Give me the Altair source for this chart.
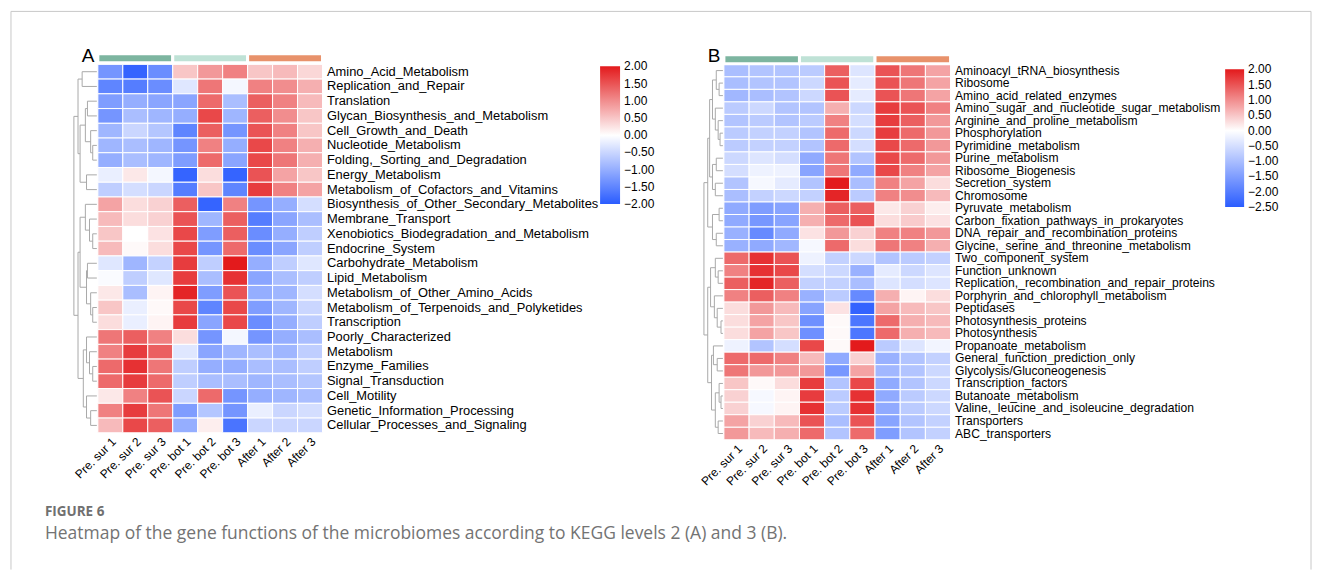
import altair as alt
import pandas as pd

FONT = "Liberation Sans"

samples = ["Pre. sur 1", "Pre. sur 2", "Pre. sur 3", "Pre. bot 1", "Pre. bot 2",
           "Pre. bot 3", "After 1", "After 2", "After 3"]

group_first = ["Pre. sur 1", "Pre. bot 1", "After 1"]
group_last = ["Pre. sur 3", "Pre. bot 3", "After 3"]
group_colors = ["#7db5a0", "#bfe2d6", "#e8926b"]

rows_A = ["Amino_Acid_Metabolism", "Replication_and_Repair", "Translation",
          "Glycan_Biosynthesis_and_Metabolism", "Cell_Growth_and_Death",
          "Nucleotide_Metabolism", "Folding,_Sorting_and_Degradation", "Energy_Metabolism",
          "Metabolism_of_Cofactors_and_Vitamins", "Biosynthesis_of_Other_Secondary_Metabolites",
          "Membrane_Transport", "Xenobiotics_Biodegradation_and_Metabolism", "Endocrine_System",
          "Carbohydrate_Metabolism", "Lipid_Metabolism", "Metabolism_of_Other_Amino_Acids",
          "Metabolism_of_Terpenoids_and_Polyketides", "Transcription", "Poorly_Characterized",
          "Metabolism", "Enzyme_Families", "Signal_Transduction", "Cell_Motility",
          "Genetic_Information_Processing", "Cellular_Processes_and_Signaling"]

vals_A = [
    [-1.3, -1.9, -1.4, 0.5, 0.9, 1.1, 0.5, 0.6, 0.35],
    [-1.5, -1.6, -1.4, -0.3, 1.2, -0.1, 1.1, 1.0, 0.7],
    [-1.2, -1.0, -1.1, -1.1, 1.3, -0.8, 1.4, 1.1, 0.6],
    [-1.3, -0.8, -0.9, -1.0, 1.6, -0.9, 1.4, 1.0, 0.5],
    [-0.9, -0.5, -0.7, -1.5, 1.4, -1.3, 1.5, 1.1, 0.5],
    [-0.9, -0.8, -0.9, -1.3, 1.1, -1.0, 1.6, 1.1, 0.7],
    [-1.0, -0.8, -0.9, -1.2, 1.3, -1.1, 1.6, 1.2, 0.7],
    [-0.2, 0.2, -0.1, -1.9, 0.3, -1.9, 1.5, 0.8, 0.5],
    [-0.6, -0.4, -0.5, -1.6, 0.5, -1.5, 1.7, 1.1, 0.8],
    [0.8, 0.3, 0.4, 1.4, -1.9, 1.1, -1.3, -1.0, -0.4],
    [0.6, 0.3, 0.4, 1.5, -0.9, 1.4, -1.6, -1.1, -0.8],
    [0.5, 0.0, 0.25, 1.6, -1.2, 1.4, -1.4, -1.0, -0.6],
    [0.6, 0.05, 0.3, 1.6, -1.3, 1.3, -1.4, -1.1, -0.6],
    [-0.3, -0.9, -0.55, 1.7, -0.6, 2.0, -1.0, -0.6, -0.3],
    [-0.05, -0.6, -0.3, 1.7, -0.8, 1.8, -1.1, -0.8, -0.6],
    [0.2, -0.8, 0.1, 1.9, -1.2, 1.5, -1.0, -0.9, -0.4],
    [0.5, -0.2, 0.05, 1.6, -1.5, 1.6, -1.2, -0.9, -0.5],
    [0.3, -0.2, 0.1, 1.7, -1.1, 1.6, -1.4, -1.0, -0.6],
    [1.2, 1.4, 1.1, 0.3, -1.3, -0.1, -1.3, -1.0, -0.8],
    [1.1, 1.7, 1.4, -0.3, -1.1, -0.9, -0.8, -0.9, -0.6],
    [1.3, 1.8, 1.2, -0.6, -1.0, -1.0, -0.8, -0.8, -0.6],
    [1.3, 1.7, 1.3, -0.6, -0.8, -0.8, -0.9, -0.8, -0.7],
    [0.2, 1.1, 1.5, -0.5, 1.3, -1.3, -1.0, -0.9, -0.8],
    [1.1, 1.7, 1.2, -1.2, -0.7, -1.3, -0.2, -0.5, -0.4],
    [0.6, 1.6, 1.4, -1.0, 0.15, -1.7, -0.5, -0.5, -0.5],
]

rows_B = ["Aminoacyl_tRNA_biosynthesis", "Ribosome", "Amino_acid_related_enzymes",
          "Amino_sugar_and_nucleotide_sugar_metabolism", "Arginine_and_proline_metabolism",
          "Phosphorylation", "Pyrimidine_metabolism", "Purine_metabolism", "Ribosome_Biogenesis",
          "Secretion_system", "Chromosome", "Pyruvate_metabolism",
          "Carbon_fixation_pathways_in_prokaryotes", "DNA_repair_and_recombination_proteins",
          "Glycine,_serine_and_threonine_metabolism", "Two_component_system", "Function_unknown",
          "Replication,_recombination_and_repair_proteins", "Porphyrin_and_chlorophyll_metabolism",
          "Peptidases", "Photosynthesis_proteins", "Photosynthesis", "Propanoate_metabolism",
          "General_function_prediction_only", "Glycolysis/Gluconeogenesis", "Transcription_factors",
          "Butanoate_metabolism", "Valine,_leucine_and_isoleucine_degradation", "Transporters",
          "ABC_transporters"]

vals_B = [
    [-1.0, -0.9, -0.9, -0.8, 1.4, -0.4, 1.5, 1.2, 0.8],
    [-1.0, -0.9, -0.9, -0.6, 1.5, -0.3, 1.5, 1.2, 0.8],
    [-1.1, -1.0, -0.9, -0.6, 1.5, -0.3, 1.5, 1.2, 0.8],
    [-0.8, -0.6, -0.9, -0.9, 0.7, -0.6, 1.7, 1.5, 1.1],
    [-0.9, -0.8, -0.9, -0.8, 1.1, -0.5, 1.7, 1.4, 0.9],
    [-0.8, -0.7, -0.7, -0.9, 1.3, -0.6, 1.7, 1.3, 0.9],
    [-0.8, -0.7, -0.7, -0.9, 1.3, -0.5, 1.6, 1.3, 0.9],
    [-0.6, -0.4, -0.5, -1.3, 1.2, -0.9, 1.6, 1.3, 0.9],
    [-0.5, -0.2, -0.2, -1.4, 1.2, -1.3, 1.6, 1.1, 0.8],
    [-0.9, -0.1, -0.3, -0.9, 2.0, -1.0, 1.1, 0.8, 0.3],
    [-1.0, -0.7, -0.6, -0.7, 1.9, -0.8, 1.1, 1.0, 0.6],
    [-1.3, -1.5, -1.4, 0.7, 1.4, 1.4, 0.2, 0.4, 0.15],
    [-1.3, -1.6, -1.4, 0.7, 1.3, 1.5, 0.3, 0.45, 0.25],
    [-1.2, -1.8, -1.3, 0.25, 0.9, 0.4, 1.1, 1.1, 0.9],
    [-1.2, -1.3, -1.1, -0.1, 1.3, 0.3, 1.2, 1.1, 0.7],
    [1.3, 1.8, 1.5, -0.2, -0.7, -0.6, -0.9, -0.8, -0.7],
    [1.1, 1.8, 1.6, -0.5, -0.6, -1.2, -0.3, -0.6, -0.4],
    [1.4, 1.9, 1.4, -0.7, -0.7, -1.0, -0.4, -0.5, -0.4],
    [1.1, 1.4, 1.1, -1.2, -0.8, -1.8, 0.7, 0.1, 0.3],
    [0.3, 0.9, 0.6, -1.4, 0.25, -2.4, 0.8, 0.6, 0.5],
    [0.3, 0.8, 0.5, -1.7, 0.05, -2.1, 1.3, 0.7, 0.6],
    [0.3, 0.8, 0.5, -1.7, 0.05, -2.1, 1.3, 0.7, 0.6],
    [-0.2, -0.9, -0.5, 1.6, 0.05, 2.0, -0.8, -0.4, -0.15],
    [1.3, 1.3, 1.1, 0.6, -1.3, 0.4, -1.2, -0.9, -0.7],
    [1.2, 0.9, 0.9, 0.9, -1.6, 0.8, -1.1, -0.9, -0.6],
    [0.5, 0.05, 0.3, 1.7, -0.9, 1.6, -1.3, -0.9, -0.6],
    [0.4, -0.1, 0.1, 1.7, -0.8, 1.8, -1.3, -0.8, -0.6],
    [0.4, -0.1, 0.1, 1.8, -0.8, 1.8, -1.3, -0.8, -0.6],
    [0.8, 0.4, 0.6, 1.5, -1.0, 1.5, -1.4, -0.9, -0.7],
    [0.9, 0.6, 0.7, 1.3, -0.9, 1.3, -1.5, -0.9, -0.7],
]

legend_ticks_A = [2.0, 1.5, 1.0, 0.5, 0.0, -0.5, -1.0, -1.5, -2.0]
legend_ticks_B = [2.0, 1.5, 1.0, 0.5, 0.0, -0.5, -1.0, -1.5, -2.0, -2.5]

# row clustering trees: (left, right, merge height); leaves are row indices
tree_A = (
    ((0, 1, 0.64),
     (((2, 3, 0.41), (4, (5, 6, 0.18), 0.27), 0.5), (7, 8, 0.45), 0.73), 0.82),
    (((9, (10, (11, 12, 0.18), 0.32), 0.5),
      ((13, 14, 0.41), (15, (16, 17, 0.18), 0.27), 0.45), 0.73),
     ((18, (19, (20, 21, 0.18), 0.32), 0.45), (22, (23, 24, 0.27), 0.45), 0.59), 0.82),
    1.0)

tree_B = (
    ((((0, (1, 2, 0.2), 0.35), (3, (4, (5, 6, 0.15), 0.25), 0.4), 0.55),
      ((7, 8, 0.35), (9, 10, 0.4), 0.55), 0.7),
     ((11, 12, 0.2), (13, 14, 0.35), 0.55), 0.8),
    (((15, (16, 17, 0.25), 0.4), (18, (19, (20, 21, 0.1), 0.3), 0.45), 0.65),
     ((22, (23, 24, 0.3), 0.5), ((25, (26, 27, 0.1), 0.2), (28, 29, 0.25), 0.4), 0.6), 0.8),
    1.0)

BLUE = "#2a5cff"
RED = "#e31a1c"


def long_table(rows, vals):
    return pd.DataFrame([{"row": r, "sample": s, "value": v}
                         for r, vs in zip(rows, vals) for s, v in zip(samples, vs)])


def dendro_segments(tree):
    segs = []

    def walk(node):
        if isinstance(node, int):
            return node + 0.5, 0.0
        left, right, h = node
        yl, hl = walk(left)
        yr, hr = walk(right)
        segs.append(dict(x=h, x2=h, y=yl, y2=yr))
        segs.append(dict(x=hl, x2=h, y=yl, y2=yl))
        segs.append(dict(x=hr, x2=h, y=yr, y2=yr))
        return (yl + yr) / 2, h

    walk(tree)
    return pd.DataFrame(segs)


def dendro_chart(tree, n, width, height, letter):
    return alt.Chart(
        dendro_segments(tree),
        title=alt.TitleParams(letter, anchor="end", fontSize=19, font=FONT, fontWeight="normal",
                              baseline="alphabetic", offset=0, dx=-3, dy=17, color="black"),
    ).mark_rule(color="#a9a9a9", strokeWidth=1).encode(
        x=alt.X("x:Q", scale=alt.Scale(domain=[0, 1], reverse=True), axis=None),
        x2="x2",
        y=alt.Y("y:Q", scale=alt.Scale(domain=[0, n], reverse=True, nice=False, zero=False), axis=None),
        y2="y2",
    ).properties(width=width, height=height)


groups_df = pd.DataFrame({"first": group_first, "last": group_last, "color": group_colors})


def heat_chart(rows, vals, dom, width, height, label_size, lx, ly, ticks, thick, bar_top):
    df = long_table(rows, vals)
    lo, hi = dom[0], dom[-1]
    eps = 1e-4
    # keep the end labels centred on the ends of the bar
    shown = [min(max(t, lo + eps), hi - eps) for t in ticks]
    color = alt.Color(
        "value:Q",
        scale=alt.Scale(domain=dom, range=[BLUE, "#ffffff", RED], interpolate="rgb"),
        legend=alt.Legend(title=None, orient="none", legendX=lx, legendY=ly, direction="vertical",
                          gradientLength=138, gradientThickness=thick, values=shown, format=".2f",
                          labelFont=FONT, labelFontSize=12, labelColor="black", labelOverlap=False,
                          gradientStrokeWidth=0, labelOffset=4, padding=0),
    )
    cells = alt.Chart(df).mark_rect(stroke="white", strokeWidth=1).encode(
        x=alt.X("sample:N", sort=samples,
                scale=alt.Scale(domain=samples, paddingInner=0, paddingOuter=0),
                axis=alt.Axis(title=None, labelAngle=-45, labelFont=FONT, labelFontSize=12,
                              labelColor="black", ticks=False, domain=False, labelPadding=3)),
        y=alt.Y("row:N", sort=rows, scale=alt.Scale(domain=rows),
                axis=alt.Axis(title=None, orient="right", labelFont=FONT, labelFontSize=label_size,
                              labelColor="black", ticks=False, domain=False, labelPadding=4,
                              labelLimit=500)),
        color=color,
    )
    ann = alt.Chart(groups_df).mark_rect(stroke="white", strokeWidth=3).encode(
        x=alt.X("first:N", bandPosition=0),
        x2=alt.X2("last:N", bandPosition=1),
        y=alt.value(bar_top),
        y2=alt.value(bar_top + 9),
        fill=alt.Fill("color:N", scale=None),
    )
    return alt.layer(cells, ann).properties(width=width, height=height)


base = alt.Chart(pd.DataFrame({"k": [0]}))
border_c = "#c8c8c8"
spacer = alt.layer(
    base.mark_rule(color=border_c).encode(x=alt.value(-313), y=alt.value(-53), y2=alt.value(506)),
    base.mark_rule(color=border_c).encode(x=alt.value(-313), x2=alt.value(989), y=alt.value(-53)),
    base.mark_rule(color=border_c).encode(x=alt.value(989), y=alt.value(-53), y2=alt.value(506)),
    base.mark_text(text="FIGURE 6", align="left", baseline="alphabetic", font="Open Sans",
                   fontSize=13.5, fontWeight="bold", color="#707070").encode(
        x=alt.value(-279), y=alt.value(452)),
    base.mark_text(text="Heatmap of the gene functions of the microbiomes according to KEGG levels 2 (A) and 3 (B).",
                   align="left", baseline="alphabetic", font="Open Sans", fontSize=17.5,
                   color="#737373").encode(x=alt.value(-279), y=alt.value(475)),
).properties(width=380, height=369)

dA = dendro_chart(tree_A, len(rows_A), 23, 369, "A")
hA = heat_chart(rows_A, vals_A, [-2, 0, 2], 225, 369, 12.9, 503, 2, legend_ticks_A, 20, -10.5)
dB = dendro_chart(tree_B, len(rows_B), 19, 376, "B")
hB = heat_chart(rows_B, vals_B, [-2.5, 0, 2], 227, 376, 12.1, 502, 5, legend_ticks_B, 19, -9.5)

chart = alt.hconcat(dA, hA, spacer, dB, hB, spacing=1, bounds="flush").resolve_scale(
    x="independent", y="independent", color="independent"
).properties(
    padding={"left": 10, "top": 10, "right": 10, "bottom": 0}
).configure_view(stroke=None)

chart.save("out.html", embed_options={"renderer": "svg", "actions": False})
